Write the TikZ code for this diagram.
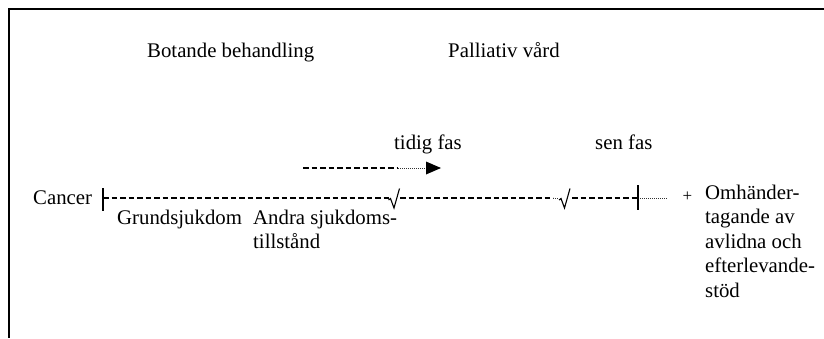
\documentclass[tikz,border=0pt]{standalone}
\usepackage{fontspec}
\setmainfont{Liberation Serif}
\usetikzlibrary{arrows.meta,calc}
\tikzset{
  lbl/.style={inner sep=0pt, anchor=base west, font=\fontsize{20.8}{24.5}\selectfont},
  dashline/.style={line width=1.3pt, dash pattern=on 5.5pt off 3pt},
  dotline/.style={line width=0.8pt, dash pattern=on 1pt off 1pt, black!80},
  tick/.style={line width=1.4pt},
  radical/.style={line width=1.1pt, line join=miter},
  frameline/.style={line width=2pt}
}
\begin{document}
\begin{tikzpicture}[x=1pt,y=-1pt]
\useasboundingbox (0,0) rectangle (824,338);
% frame (top and left edges only)
\draw[frameline] (824,9) -- (8.5,9) -- (8.5,338);

% headings
\node[lbl] (bot) at (147,57) {Botande behandling};
\node[lbl] (pal) at (448,57) {Palliativ vård};
\node[lbl] (tid) at (394,149) {tidig fas};
\node[lbl] (sen) at (595,149) {sen fas};

% phase arrow
\coordinate (a0) at (303,168);
\coordinate (a1) at (398,168);
\coordinate (a2) at (426,168);
\coordinate (a3) at (441,168);
\draw[dashline] (a0) -- (a1);
\draw[dotline] (a1) -- (a2);
\fill ($(a2)+(0,-6.5)$) -- (a3) -- ($(a2)+(0,6.5)$) -- cycle;

% timeline
\node[lbl] (can) at (33,204) {Cancer};
\coordinate (t0) at (103,198);
\coordinate (r1) at (391,198);
\coordinate (r1t) at (400,198);
\coordinate (d1) at (553,198);
\coordinate (d2) at (559,198);
\coordinate (r2t) at (572,198);
\coordinate (bar) at (638,198);
\coordinate (dend) at (668,198);

\draw[tick] (103,188) -- (103,211);
\draw[dashline] (t0) -- (r1);
\draw[radical] (388.5,200) -- (390.5,198.5) -- (394,208) -- (399.5,188.5);
\draw[dashline] (r1t) -- (d1);
\draw[dotline] (d1) -- (d2);
\draw[radical] (559,200) -- (561,198.5) -- (564.5,208) -- (570,188.5);
\draw[dashline] (r2t) -- (bar);
\draw[tick] (638,185) -- (638,210);
\draw[dotline] ($(bar)+(2,0)$) -- (dend);
\node[inner sep=0pt, font=\fontsize{17}{17}\selectfont] (plus) at (687.5,197) {+};

% labels under the timeline (base = baseline of the last line)
\node[lbl] (gru) at (117,224) {Grundsjukdom};
\node[lbl, align=left] (and) at (253,248.5) {Andra sjukdoms-\\tillstånd};
\node[lbl, align=left] (omh) at (705,297) {Omhänder-\\tagande av\\avlidna och\\efterlevande-\\stöd};
\end{tikzpicture}
\end{document}
